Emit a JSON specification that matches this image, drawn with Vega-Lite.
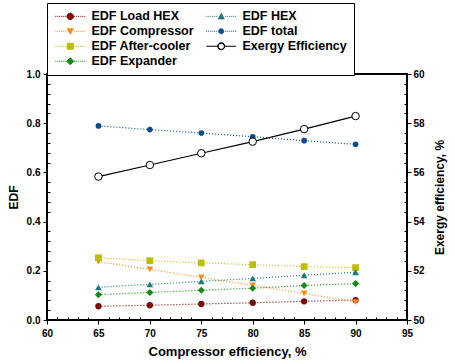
{
  "$schema": "https://vega.github.io/schema/vega-lite/v6.json",
  "width": 360,
  "height": 246,
  "autosize": "none",
  "padding": {"left": 47, "top": 74, "right": 48, "bottom": 44},
  "background": "white",
  "config": {
    "font": "Liberation Sans",
    "view": {"stroke": "black", "strokeWidth": 2},
    "axis": {
      "domain": false,
      "grid": false,
      "labelFont": "Liberation Sans",
      "labelFontWeight": "bold",
      "labelFontSize": 10,
      "labelColor": "black",
      "labelFlush": false,
      "labelOverlap": false,
      "titleFont": "Liberation Sans",
      "titleFontWeight": "bold",
      "titleColor": "black",
      "tickColor": "black",
      "tickWidth": 1
    }
  },
  "datasets": {
    "edf": [
      {"x": 65, "series": "EDF Load HEX", "edf": 0.056},
      {"x": 70, "series": "EDF Load HEX", "edf": 0.060},
      {"x": 75, "series": "EDF Load HEX", "edf": 0.065},
      {"x": 80, "series": "EDF Load HEX", "edf": 0.070},
      {"x": 85, "series": "EDF Load HEX", "edf": 0.076},
      {"x": 90, "series": "EDF Load HEX", "edf": 0.081},
      {"x": 65, "series": "EDF Compressor", "edf": 0.237},
      {"x": 70, "series": "EDF Compressor", "edf": 0.206},
      {"x": 75, "series": "EDF Compressor", "edf": 0.173},
      {"x": 80, "series": "EDF Compressor", "edf": 0.141},
      {"x": 85, "series": "EDF Compressor", "edf": 0.108},
      {"x": 90, "series": "EDF Compressor", "edf": 0.073},
      {"x": 65, "series": "EDF After-cooler", "edf": 0.253},
      {"x": 70, "series": "EDF After-cooler", "edf": 0.241},
      {"x": 75, "series": "EDF After-cooler", "edf": 0.232},
      {"x": 80, "series": "EDF After-cooler", "edf": 0.225},
      {"x": 85, "series": "EDF After-cooler", "edf": 0.217},
      {"x": 90, "series": "EDF After-cooler", "edf": 0.213},
      {"x": 65, "series": "EDF Expander", "edf": 0.103},
      {"x": 70, "series": "EDF Expander", "edf": 0.112},
      {"x": 75, "series": "EDF Expander", "edf": 0.121},
      {"x": 80, "series": "EDF Expander", "edf": 0.129},
      {"x": 85, "series": "EDF Expander", "edf": 0.140},
      {"x": 90, "series": "EDF Expander", "edf": 0.148},
      {"x": 65, "series": "EDF HEX", "edf": 0.133},
      {"x": 70, "series": "EDF HEX", "edf": 0.145},
      {"x": 75, "series": "EDF HEX", "edf": 0.157},
      {"x": 80, "series": "EDF HEX", "edf": 0.169},
      {"x": 85, "series": "EDF HEX", "edf": 0.182},
      {"x": 90, "series": "EDF HEX", "edf": 0.194},
      {"x": 65, "series": "EDF total", "edf": 0.789},
      {"x": 70, "series": "EDF total", "edf": 0.774},
      {"x": 75, "series": "EDF total", "edf": 0.760},
      {"x": 80, "series": "EDF total", "edf": 0.745},
      {"x": 85, "series": "EDF total", "edf": 0.729},
      {"x": 90, "series": "EDF total", "edf": 0.714}
    ],
    "ex": [
      {"x": 65, "eff": 55.83},
      {"x": 70, "eff": 56.30},
      {"x": 75, "eff": 56.78},
      {"x": 80, "eff": 57.25},
      {"x": 85, "eff": 57.76},
      {"x": 90, "eff": 58.29}
    ]
  },
  "layer": [
    {
      "data": {"name": "edf"},
      "encoding": {
        "x": {
          "field": "x", "type": "quantitative",
          "scale": {"domain": [60, 95], "nice": false, "zero": false},
          "axis": {
            "title": "Compressor efficiency, %",
            "titleFontSize": 13,
            "titlePadding": 7,
            "values": [60,61,62,63,64,65,66,67,68,69,70,71,72,73,74,75,76,77,78,79,80,81,82,83,84,85,86,87,88,89,90,91,92,93,94,95],
            "labelExpr": "datum.value % 5 === 0 ? format(datum.value, 'd') : ''",
            "tickSize": {"condition": {"test": "datum.value % 5 === 0", "value": 4}, "value": -3},
            "labelPadding": 4
          }
        },
        "y": {
          "field": "edf", "type": "quantitative",
          "scale": {"domain": [0, 1], "nice": false, "zero": false},
          "axis": {
            "title": "EDF",
            "titleFontSize": 12,
            "titlePadding": 6,
            "values": [0,0.04,0.08,0.12,0.16,0.2,0.24,0.28,0.32,0.36,0.4,0.44,0.48,0.52,0.56,0.6,0.64,0.68,0.72,0.76,0.8,0.84,0.88,0.92,0.96,1],
            "labelExpr": "round(datum.value*100) % 20 === 0 ? format(datum.value, '.1f') : ''",
            "tickSize": {"condition": {"test": "round(datum.value*100) % 20 === 0", "value": 4}, "value": -3},
            "labelPadding": 3
          }
        },
        "color": {
          "field": "series", "type": "nominal",
          "scale": {
            "domain": ["EDF Load HEX", "EDF Compressor", "EDF After-cooler", "EDF Expander", "EDF HEX", "EDF total", "Exergy Efficiency"],
            "range": ["#7d0a0a", "#ff8c1a", "#bdbd00", "#138a13", "#1f7a7a", "#0d4a8a", "#000000"]
          }
        }
      },
      "layer": [
        {"mark": {"type": "line", "strokeDash": [1, 2], "strokeWidth": 1.2}},
        {"transform": [{"filter": "datum.series === 'EDF Load HEX'"}], "mark": {"type": "point", "shape": "circle", "filled": true, "opacity": 1, "size": 40}},
        {"transform": [{"filter": "datum.series === 'EDF Compressor'"}], "mark": {"type": "point", "shape": "triangle-down", "filled": true, "opacity": 1, "size": 45}},
        {"transform": [{"filter": "datum.series === 'EDF After-cooler'"}], "mark": {"type": "point", "shape": "square", "filled": true, "opacity": 1, "size": 45}},
        {"transform": [{"filter": "datum.series === 'EDF Expander'"}], "mark": {"type": "point", "shape": "diamond", "filled": true, "opacity": 1, "size": 50}},
        {"transform": [{"filter": "datum.series === 'EDF HEX'"}], "mark": {"type": "point", "shape": "triangle-up", "filled": true, "opacity": 1, "size": 45}},
        {"transform": [{"filter": "datum.series === 'EDF total'"}], "mark": {"type": "point", "shape": "circle", "filled": true, "opacity": 1, "size": 32}}
      ]
    },
    {
      "data": {"name": "ex"},
      "encoding": {
        "x": {
          "field": "x", "type": "quantitative",
          "scale": {"domain": [60, 95], "nice": false, "zero": false},
          "axis": {
            "title": "Compressor efficiency, %",
            "titleFontSize": 13,
            "titlePadding": 7,
            "values": [60,61,62,63,64,65,66,67,68,69,70,71,72,73,74,75,76,77,78,79,80,81,82,83,84,85,86,87,88,89,90,91,92,93,94,95],
            "labelExpr": "datum.value % 5 === 0 ? format(datum.value, 'd') : ''",
            "tickSize": {"condition": {"test": "datum.value % 5 === 0", "value": 4}, "value": -3},
            "labelPadding": 4
          }
        },
        "y": {
          "field": "eff", "type": "quantitative",
          "scale": {"domain": [50, 60], "nice": false, "zero": false},
          "axis": {
            "orient": "right",
            "title": "Exergy efficiency, %",
            "titleFontSize": 12,
            "titleAngle": 270,
            "titleBaseline": "top",
            "titlePadding": 10,
            "values": [50,50.4,50.8,51.2,51.6,52,52.4,52.8,53.2,53.6,54,54.4,54.8,55.2,55.6,56,56.4,56.8,57.2,57.6,58,58.4,58.8,59.2,59.6,60],
            "labelExpr": "round(datum.value*10) % 20 === 0 ? format(datum.value, 'd') : ''",
            "tickSize": {"condition": {"test": "round(datum.value*10) % 20 === 0", "value": 4}, "value": -3},
            "labelPadding": 2
          }
        }
      },
      "layer": [
        {"mark": {"type": "line", "color": "black", "strokeWidth": 1.2}},
        {"mark": {"type": "point", "shape": "circle", "filled": true, "fill": "white", "stroke": "black", "strokeWidth": 1, "opacity": 1, "size": 56}}
      ]
    },
    {
      "data": {"values": []},
      "mark": {"type": "point", "filled": true, "opacity": 1},
      "encoding": {
        "color": {
          "field": "series", "type": "nominal",
          "scale": {
            "domain": ["EDF Load HEX", "EDF Compressor", "EDF After-cooler", "EDF Expander", "EDF HEX", "EDF total", "Exergy Efficiency"],
            "range": ["#7d0a0a", "#ff8c1a", "#bdbd00", "#138a13", "#1f7a7a", "#0d4a8a", "#000000"]
          },
          "legend": {
            "title": null,
            "orient": "none",
            "legendX": 0,
            "legendY": -71,
            "columns": 2,
            "strokeColor": "black",
            "fillColor": "white",
            "padding": 7,
            "labelFont": "Liberation Sans",
            "labelFontSize": 12.5,
            "labelFontWeight": "bold",
            "labelColor": "black",
            "labelLimit": 400,
            "symbolSize": 100,
            "symbolOffset": 10,
            "labelOffset": 15,
            "rowPadding": 2,
            "columnPadding": 10,
            "symbolStrokeWidth": 1,
            "encode": {
              "symbols": {
                "update": {
                  "stroke": {"signal": "scale('color', datum.value)"},
                  "strokeWidth": {"value": 1},
                  "opacity": {"value": 1}
                }
              }
            }
          }
        },
        "shape": {
          "field": "series", "type": "nominal",
          "scale": {
            "domain": ["EDF Load HEX", "EDF Compressor", "EDF After-cooler", "EDF Expander", "EDF HEX", "EDF total", "Exergy Efficiency"],
            "range": [
              "M-3,0h0.2M-2.6,0h0.2M-2.2,0h0.2M-1.8,0h0.2M-1.4,0h0.2M-1,0h0.2M0.8,0h0.2M1.2,0h0.2M1.6,0h0.2M2,0h0.2M2.4,0h0.2M2.8,0h0.2M0.65,0A0.65,0.65,0,1,1,-0.65,0A0.65,0.65,0,1,1,0.65,0Z",
              "M-3,0h0.2M-2.6,0h0.2M-2.2,0h0.2M-1.8,0h0.2M-1.4,0h0.2M-1,0h0.2M0.8,0h0.2M1.2,0h0.2M1.6,0h0.2M2,0h0.2M2.4,0h0.2M2.8,0h0.2M-0.6,-0.5L0.6,-0.5L0,0.6Z",
              "M-3,0h0.2M-2.6,0h0.2M-2.2,0h0.2M-1.8,0h0.2M-1.4,0h0.2M-1,0h0.2M0.8,0h0.2M1.2,0h0.2M1.6,0h0.2M2,0h0.2M2.4,0h0.2M2.8,0h0.2M-0.6,-0.6L0.6,-0.6L0.6,0.6L-0.6,0.6Z",
              "M-3,0h0.2M-2.6,0h0.2M-2.2,0h0.2M-1.8,0h0.2M-1.4,0h0.2M-1,0h0.2M0.8,0h0.2M1.2,0h0.2M1.6,0h0.2M2,0h0.2M2.4,0h0.2M2.8,0h0.2M0,-0.7L0.7,0L0,0.7L-0.7,0Z",
              "M-3,0h0.2M-2.6,0h0.2M-2.2,0h0.2M-1.8,0h0.2M-1.4,0h0.2M-1,0h0.2M0.8,0h0.2M1.2,0h0.2M1.6,0h0.2M2,0h0.2M2.4,0h0.2M2.8,0h0.2M-0.6,0.5L0.6,0.5L0,-0.6Z",
              "M-3,0h0.2M-2.6,0h0.2M-2.2,0h0.2M-1.8,0h0.2M-1.4,0h0.2M-1,0h0.2M0.8,0h0.2M1.2,0h0.2M1.6,0h0.2M2,0h0.2M2.4,0h0.2M2.8,0h0.2M0.5,0A0.5,0.5,0,1,1,-0.5,0A0.5,0.5,0,1,1,0.5,0Z",
              "M-3,0L-0.7,0M0.7,0L3,0M0.7,0A0.7,0.7,0,1,1,-0.7,0A0.7,0.7,0,1,1,0.7,0ZM0.62,0A0.62,0.62,0,1,0,-0.62,0A0.62,0.62,0,1,0,0.62,0Z"
            ]
          },
          "legend": {
            "title": null,
            "orient": "none",
            "legendX": 0,
            "legendY": -71,
            "columns": 2,
            "strokeColor": "black",
            "fillColor": "white",
            "padding": 7,
            "labelFont": "Liberation Sans",
            "labelFontSize": 12.5,
            "labelFontWeight": "bold",
            "labelColor": "black",
            "labelLimit": 400,
            "symbolSize": 100,
            "symbolOffset": 10,
            "labelOffset": 15,
            "rowPadding": 2,
            "columnPadding": 10,
            "symbolStrokeWidth": 1,
            "encode": {
              "symbols": {
                "update": {
                  "stroke": {"signal": "scale('color', datum.value)"},
                  "strokeWidth": {"value": 1},
                  "opacity": {"value": 1}
                }
              }
            }
          }
        }
      }
    }
  ],
  "resolve": {"scale": {"y": "independent"}}
}
